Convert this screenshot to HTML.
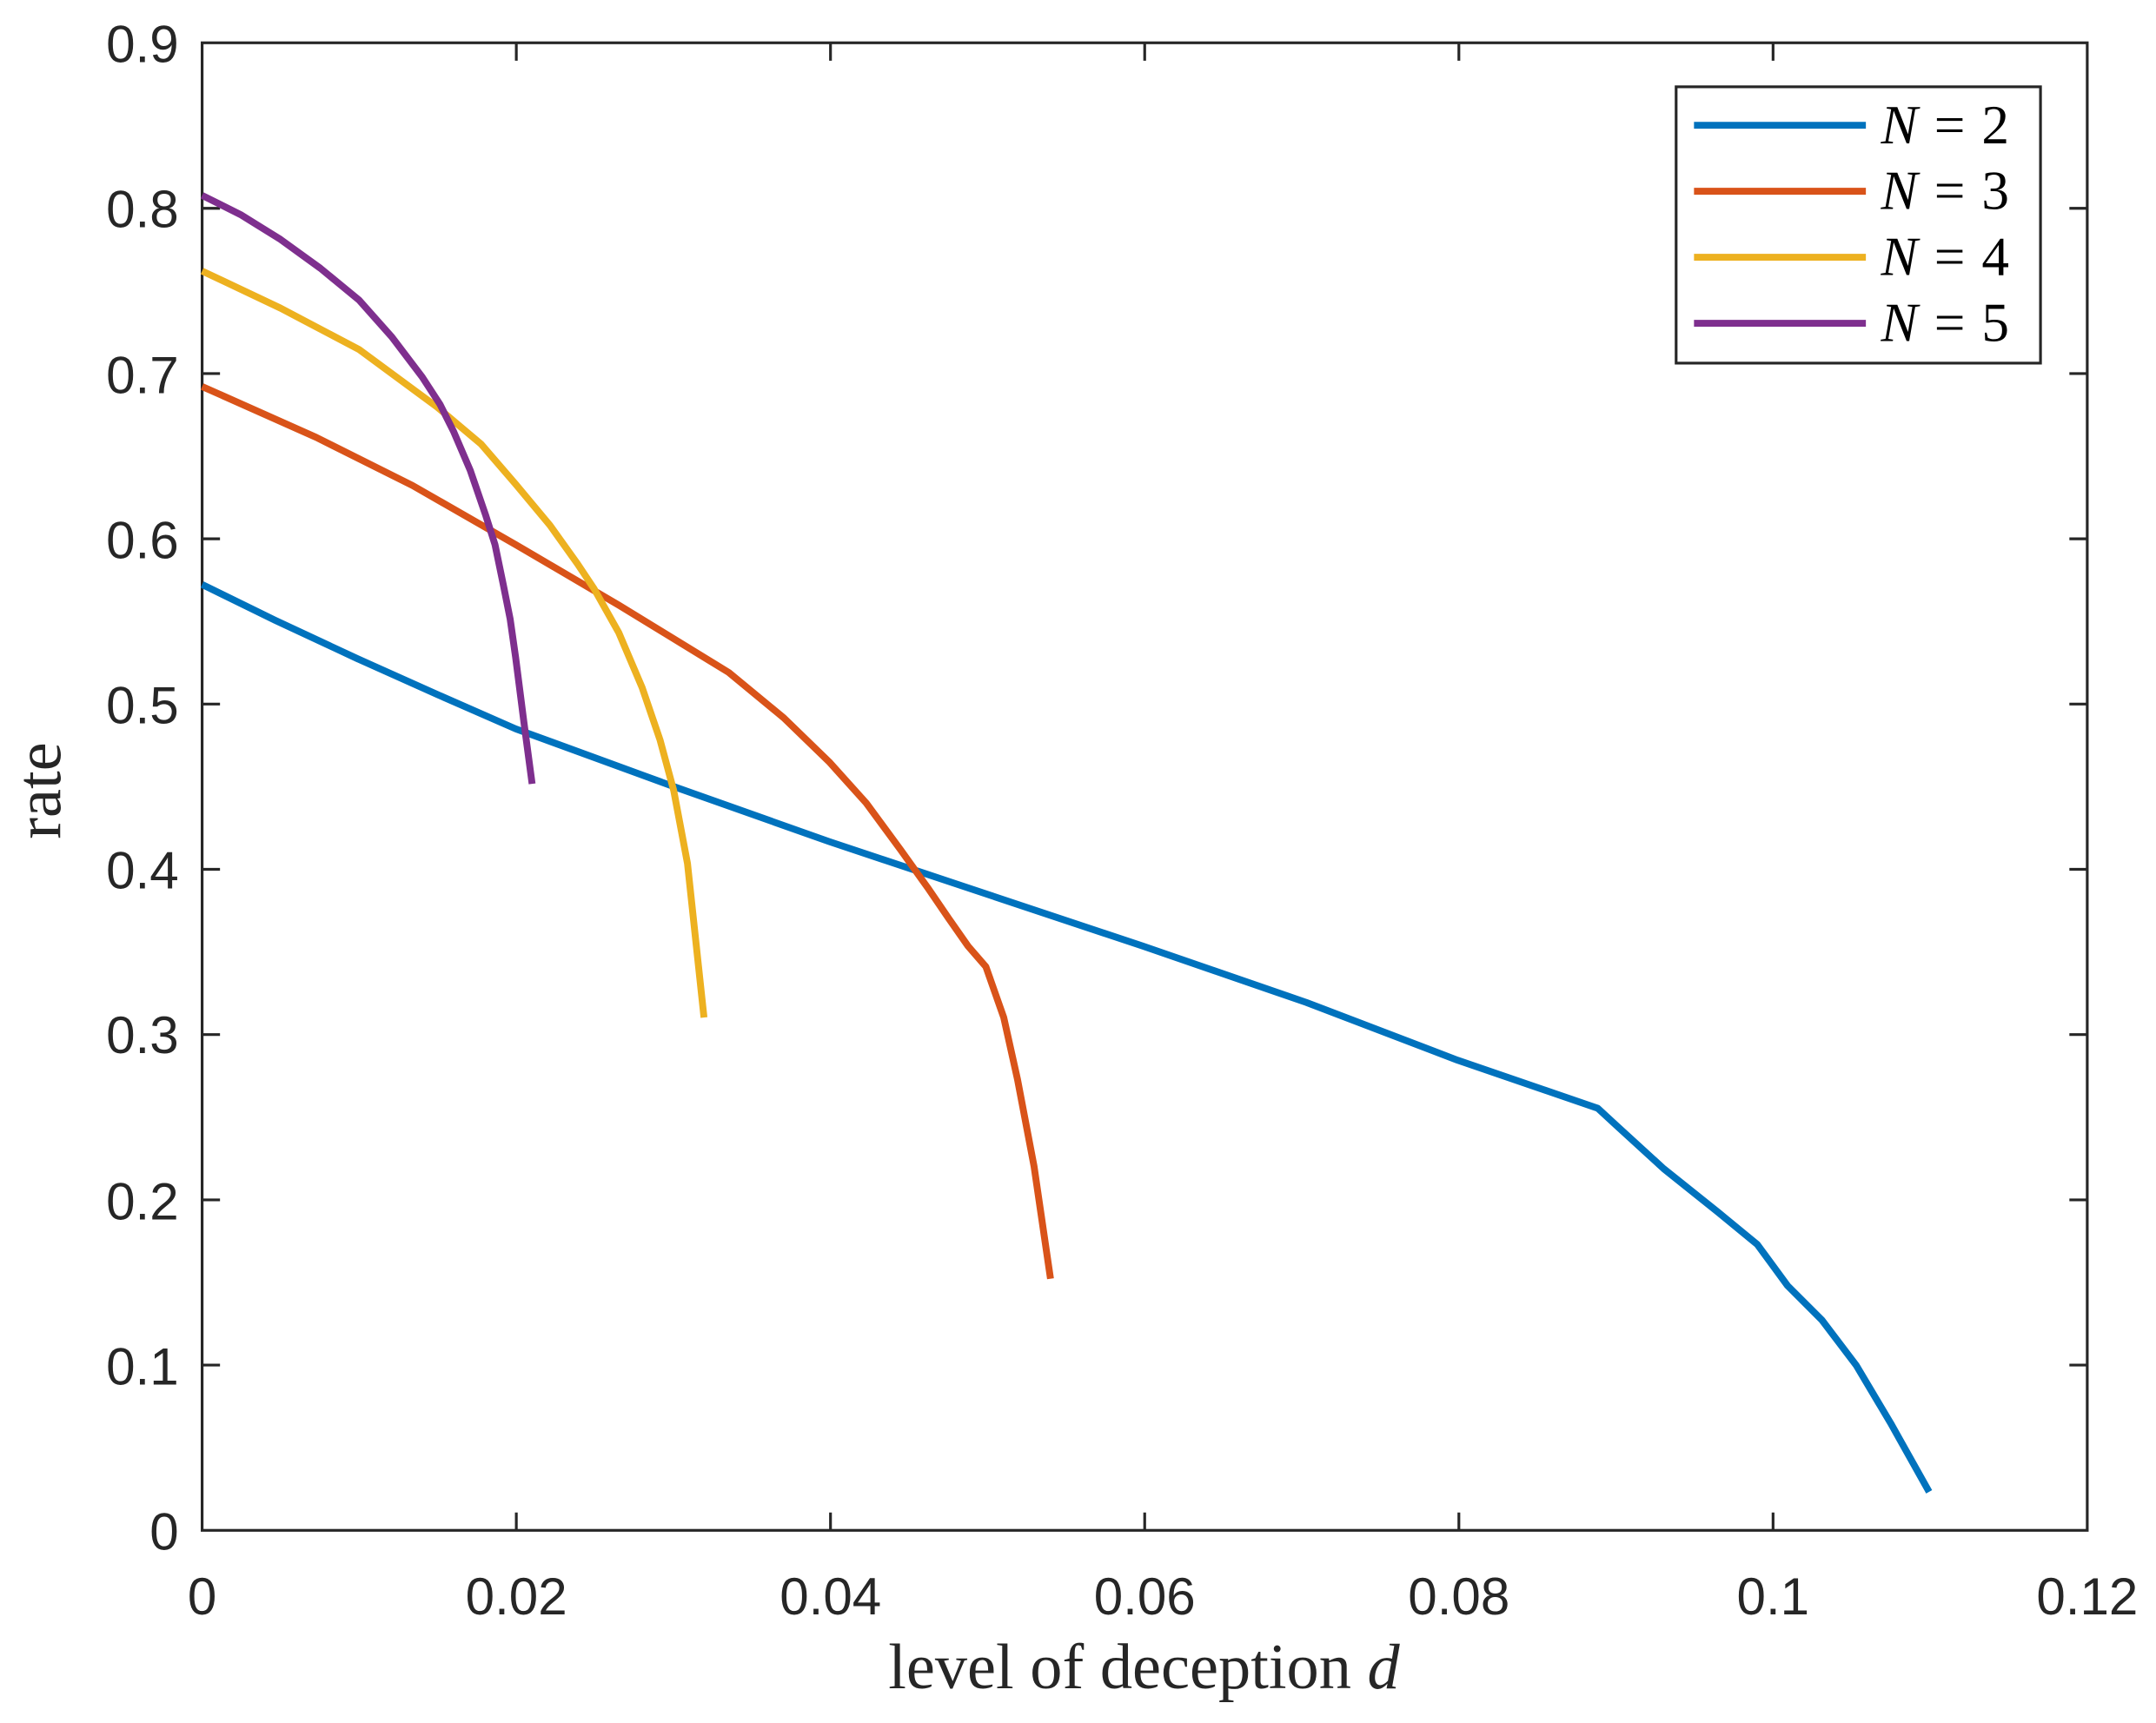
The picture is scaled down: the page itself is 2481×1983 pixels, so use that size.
<!DOCTYPE html>
<html><head><meta charset="utf-8"><style>html,body{margin:0;padding:0;background:#fff}svg{display:block}</style></head>
<body>
<svg width="2481" height="1983" viewBox="0 0 1568 1253" xmlns="http://www.w3.org/2000/svg">
<rect width="1568" height="1253" fill="#fff"/>
<g stroke="#262626" stroke-width="2" fill="none">
<rect x="147" y="31" width="1371" height="1082"/>
<path d="M375.5,1113v-13M604,1113v-13M832.5,1113v-13M1061,1113v-13M1289.5,1113v-13
M375.5,31v13M604,31v13M832.5,31v13M1061,31v13M1289.5,31v13
M147,992.8h13M147,872.6h13M147,752.4h13M147,632.2h13M147,512h13M147,391.8h13M147,271.6h13M147,151.4h13
M1518,992.8h-13M1518,872.6h-13M1518,752.4h-13M1518,632.2h-13M1518,512h-13M1518,391.8h-13M1518,271.6h-13M1518,151.4h-13"/>
</g>
<g font-family="Liberation Sans, sans-serif" font-size="38" fill="#262626" text-anchor="middle">
<text x="147" y="1174">0</text><text x="375.5" y="1174">0.02</text><text x="604" y="1174">0.04</text><text x="832.5" y="1174">0.06</text><text x="1061" y="1174">0.08</text><text x="1289.5" y="1174">0.1</text><text x="1518" y="1174">0.12</text>
</g>
<g font-family="Liberation Sans, sans-serif" font-size="38" fill="#262626" text-anchor="end">
<text x="130" y="1127">0</text><text x="130" y="1007">0.1</text><text x="130" y="887">0.2</text><text x="130" y="766">0.3</text><text x="130" y="646">0.4</text><text x="130" y="526">0.5</text><text x="130" y="406">0.6</text><text x="130" y="286">0.7</text><text x="130" y="165">0.8</text><text x="130" y="45">0.9</text>
</g>
<text x="832" y="1228" font-family="Liberation Serif, serif" font-size="47" fill="#262626" text-anchor="middle">level of deception <tspan font-style="italic">d</tspan></text>
<text transform="translate(44,575) rotate(-90)" font-family="Liberation Serif, serif" font-size="47" fill="#262626" text-anchor="middle">rate</text>
<g fill="none" stroke-width="5" stroke-linejoin="round">
<polyline stroke="#0072BD" points="147,425 200,451 260,479 318,505 375,530 490,572 603,612 720,651 831,688 950,729 1060,771 1162,806 1175,818 1210,850 1250,882 1278,905 1300,935 1325,960 1350,993 1375,1035 1403,1085"/>
<polyline stroke="#D95319" points="147,281 230,318 300,353 375,396 450,440 530,489 570,522 603,554 630,584 655,618 675,646 690,668 704,688 717,703 730,740 740,785 752,848 764,930"/>
<polyline stroke="#EDB120" points="147,197 204,224 261,254 318,296 350,323 375,352 400,382 420,410 432,428 450,460 467,500 480,538 490,575 500,628 512,740"/>
<polyline stroke="#7E2F8E" points="147,142 175,156 204,174 233,195 261,218 285,245 307,274 320,294 330,314 342,342 353,374 360,396 366,425 371,450 375,478 381,525 387,570"/>
</g>
<rect x="1219" y="63" width="265" height="201" fill="#fff" stroke="#262626" stroke-width="2"/>
<g stroke-width="5">
<line x1="1232" y1="91" x2="1357" y2="91" stroke="#0072BD"/>
<line x1="1232" y1="139" x2="1357" y2="139" stroke="#D95319"/>
<line x1="1232" y1="187" x2="1357" y2="187" stroke="#EDB120"/>
<line x1="1232" y1="235" x2="1357" y2="235" stroke="#7E2F8E"/>
</g>
<g font-family="Liberation Serif, serif" font-size="40" fill="#000" letter-spacing="1">
<text x="1368" y="104"><tspan font-style="italic">N</tspan> = 2</text>
<text x="1368" y="152"><tspan font-style="italic">N</tspan> = 3</text>
<text x="1368" y="200"><tspan font-style="italic">N</tspan> = 4</text>
<text x="1368" y="248"><tspan font-style="italic">N</tspan> = 5</text>
</g>
</svg>
</body></html>
